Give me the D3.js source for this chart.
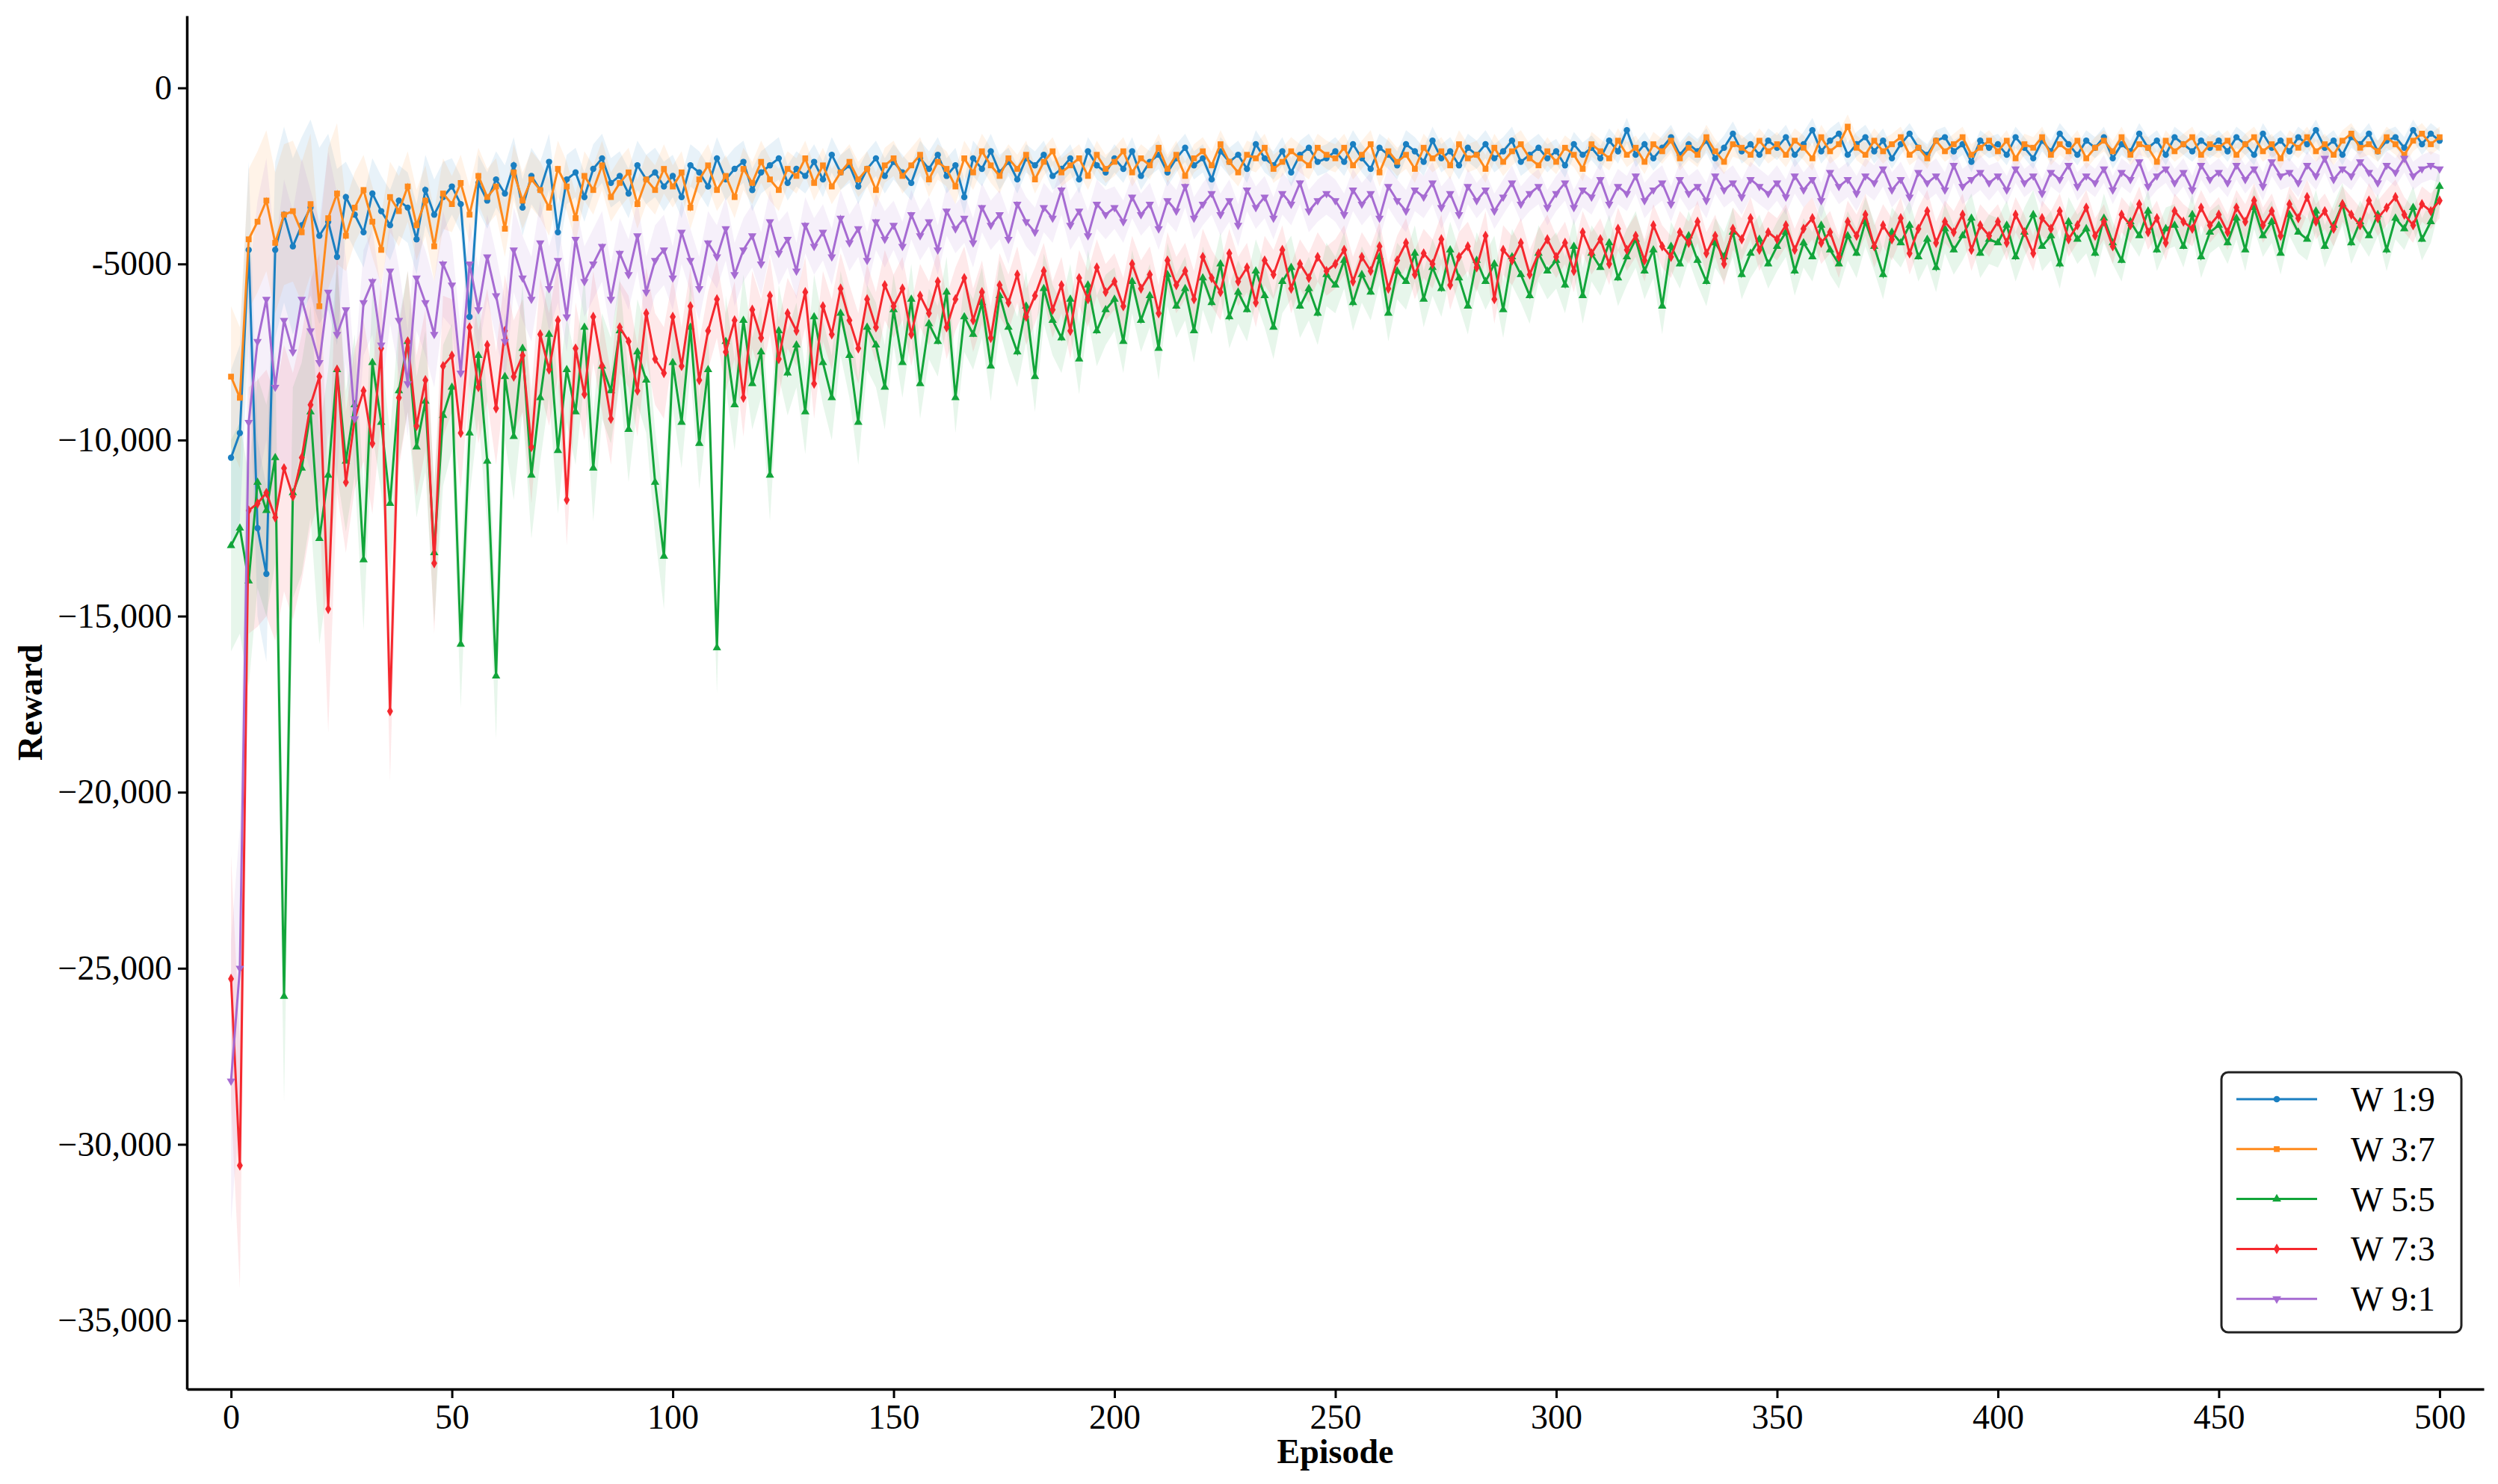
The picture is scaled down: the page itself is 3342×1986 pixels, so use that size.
<!DOCTYPE html>
<html>
<head>
<meta charset="UTF-8" />
<script src="https://d3js.org/d3.v7.min.js"></script>
<style>
  body { margin: 0; background: #fff; }
  text { font-family: "Liberation Serif", "Times New Roman", serif; }
</style>
</head>
<body>
<svg id="chart" width="3342" height="1986"></svg>
<script>
// rewards in thousands, one value every 2 episodes (0, 2, ... 500)
const episodes = d3.range(0, 501, 2);
const seriesNames = ["W 1:9", "W 3:7", "W 5:5", "W 7:3", "W 9:1"];

const w19 = [
-10.5,-9.8,-4.6,-12.5,-13.8,-4.6,-3.6,-4.5,-3.9,-3.4,-4.2,-3.8,-4.8,-3.1,-3.6,-4.1,-3.0,-3.5,-3.9,-3.2,-3.4,-4.3,-2.9,-3.6,-3.1,
-2.8,-3.3,-6.5,-2.7,-3.2,-2.6,-3.0,-2.2,-3.4,-2.5,-2.9,-2.1,-4.1,-2.6,-2.4,-3.1,-2.3,-2.0,-2.7,-2.5,-3.0,-2.2,-2.6,-2.4,-2.8,
-2.5,-3.1,-2.2,-2.4,-2.8,-2.0,-2.6,-2.3,-2.1,-2.9,-2.4,-2.2,-2.0,-2.7,-2.3,-2.5,-2.1,-2.6,-1.9,-2.4,-2.2,-2.8,-2.3,-2.0,-2.5,
-2.1,-2.4,-2.7,-2.0,-2.3,-1.9,-2.5,-2.2,-3.1,-2.0,-2.3,-1.8,-2.4,-2.1,-2.6,-2.0,-2.2,-1.9,-2.5,-2.3,-2.0,-2.6,-1.8,-2.2,-2.4,
-2.0,-2.3,-1.8,-2.5,-2.1,-1.9,-2.4,-2.0,-1.7,-2.2,-2.0,-2.6,-1.8,-2.1,-1.9,-2.3,-1.6,-2.0,-2.2,-1.8,-2.4,-1.9,-1.7,-2.1,-2.0,
-1.8,-2.1,-1.6,-2.0,-2.3,-1.7,-1.9,-2.2,-1.6,-1.8,-2.1,-1.5,-2.0,-1.8,-2.2,-1.7,-1.9,-1.6,-2.0,-1.8,-1.5,-2.1,-1.9,-1.7,-2.0,
-1.8,-2.2,-1.6,-1.9,-1.7,-2.0,-1.5,-1.8,-1.2,-1.9,-1.6,-2.0,-1.7,-1.4,-1.9,-1.6,-1.8,-1.5,-2.0,-1.7,-1.3,-1.8,-1.6,-1.9,-1.5,
-1.7,-1.4,-1.9,-1.6,-1.2,-1.8,-1.5,-1.3,-1.9,-1.6,-1.4,-1.8,-1.5,-2.0,-1.6,-1.3,-1.7,-1.9,-1.5,-1.4,-1.8,-1.6,-2.1,-1.5,-1.7,
-1.6,-1.9,-1.4,-1.7,-2.0,-1.5,-1.8,-1.3,-1.6,-1.9,-1.5,-1.7,-1.4,-2.0,-1.6,-1.8,-1.3,-1.7,-1.5,-1.9,-1.4,-1.6,-1.8,-1.5,-1.7,
-1.5,-1.8,-1.4,-1.6,-1.9,-1.3,-1.7,-1.5,-1.8,-1.4,-1.6,-1.2,-1.7,-1.5,-1.9,-1.4,-1.6,-1.3,-1.8,-1.5,-1.4,-1.7,-1.2,-1.6,-1.3,
-1.5];

const w37 = [
-8.2,-8.8,-4.3,-3.8,-3.2,-4.4,-3.6,-3.5,-4.1,-3.3,-6.2,-3.7,-3.0,-4.2,-3.4,-2.9,-3.8,-4.6,-3.1,-3.5,-2.8,-3.9,-3.2,-4.5,-3.0,
-3.3,-2.7,-3.6,-2.5,-3.1,-2.8,-4.0,-2.4,-3.2,-2.6,-2.9,-3.4,-2.3,-2.8,-3.7,-2.5,-2.9,-2.2,-3.1,-2.7,-2.4,-3.3,-2.6,-2.9,-2.3,
-2.8,-2.4,-3.4,-2.6,-2.2,-2.9,-2.5,-3.1,-2.3,-2.7,-2.1,-2.6,-2.9,-2.3,-2.5,-2.0,-2.7,-2.2,-2.8,-2.4,-2.1,-2.6,-2.3,-2.9,-2.2,
-2.0,-2.5,-2.2,-1.9,-2.6,-2.1,-2.3,-2.8,-2.0,-2.4,-1.8,-2.2,-2.5,-2.0,-2.3,-1.9,-2.6,-2.1,-1.8,-2.4,-2.2,-2.0,-2.5,-1.9,-2.3,
-2.1,-1.8,-2.4,-2.0,-2.2,-1.7,-2.3,-1.9,-2.5,-2.0,-1.8,-2.2,-1.6,-2.1,-2.4,-1.9,-2.0,-1.7,-2.3,-2.1,-1.8,-2.0,-2.2,-1.7,-1.9,
-2.0,-1.7,-2.2,-1.9,-1.6,-2.4,-1.8,-2.1,-1.9,-2.3,-1.7,-2.0,-1.8,-2.2,-1.6,-2.0,-1.9,-2.3,-1.7,-2.1,-1.8,-1.6,-2.0,-2.2,-1.8,
-2.1,-1.7,-1.9,-2.3,-1.6,-1.8,-2.0,-1.5,-1.9,-1.7,-2.1,-1.6,-1.8,-1.5,-2.0,-1.7,-1.9,-1.4,-1.8,-2.1,-1.6,-1.7,-1.9,-1.5,-1.8,
-1.6,-1.9,-1.5,-1.7,-2.0,-1.4,-1.8,-1.6,-1.1,-1.7,-1.9,-1.5,-1.8,-1.6,-1.4,-1.9,-1.7,-2.0,-1.5,-1.8,-1.6,-1.4,-1.9,-1.7,-1.5,
-1.8,-1.5,-2.0,-1.6,-1.7,-1.4,-1.9,-1.6,-1.8,-1.5,-2.0,-1.7,-1.5,-1.8,-1.4,-1.9,-1.6,-1.7,-2.1,-1.5,-1.8,-1.6,-1.4,-1.9,-1.6,
-1.7,-1.5,-1.9,-1.6,-1.4,-1.8,-1.6,-2.0,-1.5,-1.7,-1.4,-1.8,-1.6,-1.9,-1.5,-1.3,-1.7,-1.6,-1.8,-1.4,-1.6,-1.9,-1.5,-1.3,-1.6,
-1.4];

const w55 = [
-13.0,-12.5,-14.0,-11.2,-12.0,-10.5,-25.8,-11.5,-10.8,-9.2,-12.8,-11.0,-8.0,-10.6,-9.0,-13.4,-7.8,-9.5,-11.8,-8.6,-7.2,-10.2,-8.9,-13.2,-9.3,
-8.5,-15.8,-9.8,-7.6,-10.6,-16.7,-8.2,-9.9,-7.4,-11.0,-8.8,-7.0,-10.3,-8.0,-9.2,-6.8,-10.8,-7.9,-8.6,-6.9,-9.7,-7.5,-8.3,-11.2,-13.3,
-7.8,-9.5,-6.8,-10.1,-8.0,-15.9,-7.2,-9.0,-6.6,-8.4,-7.5,-11.0,-6.9,-8.1,-7.3,-9.2,-6.5,-7.8,-8.8,-6.4,-7.6,-9.5,-6.8,-7.3,-8.5,
-6.3,-7.8,-6.0,-8.4,-6.7,-7.2,-5.8,-8.8,-6.5,-7.0,-6.1,-7.9,-5.9,-6.8,-7.5,-6.2,-8.2,-5.7,-6.6,-7.1,-6.0,-7.7,-5.6,-6.9,-6.3,
-6.0,-7.2,-5.5,-6.6,-5.9,-7.4,-5.3,-6.2,-5.7,-6.9,-5.4,-6.1,-5.0,-6.5,-5.8,-6.3,-5.2,-5.9,-6.8,-5.5,-5.1,-6.2,-5.7,-6.4,-5.3,
-5.6,-4.9,-6.1,-5.3,-5.8,-4.8,-6.4,-5.2,-5.5,-4.7,-6.0,-5.1,-5.7,-4.6,-5.4,-6.2,-4.9,-5.5,-5.0,-6.3,-4.8,-5.3,-5.9,-4.7,-5.2,
-4.9,-5.6,-4.5,-5.9,-4.7,-5.1,-4.4,-5.4,-4.8,-4.3,-5.2,-4.6,-6.2,-4.5,-5.0,-4.2,-4.9,-5.5,-4.4,-4.8,-4.1,-5.3,-4.7,-4.3,-5.0,
-4.5,-4.1,-5.2,-4.4,-4.8,-3.9,-4.6,-5.0,-4.2,-4.7,-3.8,-4.5,-5.3,-4.1,-4.4,-3.9,-4.8,-4.3,-5.1,-4.0,-4.6,-4.2,-3.7,-4.7,-4.3,
-4.4,-3.9,-4.8,-4.1,-3.6,-4.5,-4.2,-5.0,-3.8,-4.3,-4.0,-4.7,-3.7,-4.4,-4.9,-3.8,-4.2,-3.5,-4.6,-4.0,-3.9,-4.5,-3.6,-4.8,-4.1,
-3.9,-4.4,-3.7,-4.6,-3.4,-4.2,-3.8,-4.7,-3.6,-4.1,-4.3,-3.5,-4.5,-3.9,-3.3,-4.4,-3.8,-4.2,-3.6,-4.6,-3.7,-4.0,-3.4,-4.3,-3.8,
-2.8];

const w73 = [
-25.3,-30.6,-12.0,-11.8,-11.5,-12.2,-10.8,-11.6,-10.5,-9.0,-8.2,-14.8,-8.0,-11.2,-9.4,-8.6,-10.1,-7.4,-17.7,-8.8,-7.2,-9.6,-8.3,-13.5,-7.9,
-7.6,-9.8,-6.8,-8.5,-7.3,-9.1,-6.9,-8.2,-7.6,-10.2,-7.0,-8.0,-6.6,-11.7,-7.4,-8.7,-6.5,-7.9,-9.4,-6.8,-7.2,-8.6,-6.4,-7.7,-8.1,
-6.5,-7.9,-6.2,-8.3,-6.9,-6.0,-7.5,-6.6,-8.8,-6.3,-7.1,-5.9,-7.7,-6.4,-6.9,-5.8,-8.4,-6.2,-7.0,-5.7,-6.6,-7.4,-6.0,-6.8,-5.6,
-6.2,-5.7,-7.0,-5.9,-6.4,-5.5,-6.8,-6.0,-5.4,-6.6,-5.8,-7.1,-5.6,-6.1,-5.3,-6.5,-5.9,-5.2,-6.3,-5.6,-6.9,-5.4,-6.0,-5.1,-5.8,
-5.5,-6.2,-5.0,-5.7,-5.3,-6.4,-4.9,-5.6,-5.2,-6.0,-4.8,-5.4,-5.8,-4.7,-5.5,-5.1,-6.1,-4.9,-5.3,-4.6,-5.7,-5.0,-5.4,-4.8,-5.2,
-5.0,-4.6,-5.5,-4.8,-5.2,-4.5,-5.7,-4.9,-4.4,-5.3,-4.7,-5.0,-4.3,-5.6,-4.8,-4.5,-5.1,-4.2,-6.0,-4.6,-4.9,-4.4,-5.3,-4.7,-4.3,
-4.8,-4.4,-5.2,-4.1,-4.7,-4.3,-5.0,-4.0,-4.6,-4.2,-4.9,-3.9,-4.5,-4.8,-4.1,-4.4,-3.8,-4.7,-4.2,-5.0,-4.0,-4.3,-3.7,-4.6,-4.1,
-4.3,-3.9,-4.6,-4.0,-3.7,-4.4,-4.1,-4.8,-3.8,-4.2,-3.6,-4.5,-3.9,-4.3,-3.7,-4.7,-4.0,-3.5,-4.4,-3.8,-4.1,-3.6,-4.6,-3.9,-4.2,
-3.8,-4.4,-3.6,-4.1,-4.7,-3.7,-4.0,-3.5,-4.3,-3.9,-3.4,-4.2,-3.8,-4.5,-3.6,-3.9,-3.3,-4.1,-3.7,-4.4,-3.5,-3.8,-4.0,-3.4,-3.9,
-3.6,-4.1,-3.4,-3.8,-3.2,-3.9,-3.5,-4.2,-3.3,-3.7,-3.1,-3.8,-3.5,-4.0,-3.3,-3.6,-3.9,-3.2,-3.7,-3.4,-3.1,-3.6,-3.9,-3.3,-3.5,
-3.2];

const w91 = [
-28.2,-25.0,-9.5,-7.2,-6.0,-8.5,-6.6,-7.5,-6.0,-6.9,-7.8,-5.8,-7.0,-6.3,-9.4,-6.1,-5.5,-7.3,-5.2,-6.6,-8.4,-5.4,-6.1,-7.0,-5.0,
-5.6,-8.1,-5.0,-6.3,-4.8,-5.9,-7.2,-4.6,-5.4,-6.0,-4.4,-5.7,-4.9,-6.5,-4.3,-5.5,-5.0,-4.5,-6.0,-4.7,-5.3,-4.2,-5.8,-4.9,-4.6,
-5.4,-4.1,-4.9,-5.7,-4.4,-4.8,-4.0,-5.3,-4.6,-4.2,-5.0,-3.8,-4.7,-4.3,-5.2,-3.9,-4.5,-4.1,-4.8,-3.7,-4.4,-4.0,-4.9,-3.8,-4.3,
-3.9,-4.5,-3.6,-4.2,-3.8,-4.6,-3.5,-4.0,-3.7,-4.4,-3.4,-3.9,-3.6,-4.3,-3.3,-3.8,-4.1,-3.4,-3.7,-2.9,-3.9,-3.5,-4.2,-3.3,-3.6,
-3.4,-3.8,-3.1,-3.6,-3.3,-4.0,-3.2,-3.5,-2.8,-3.7,-3.3,-3.0,-3.6,-3.2,-3.9,-2.9,-3.4,-3.1,-3.7,-3.0,-3.3,-2.7,-3.5,-3.2,-3.0,
-3.2,-3.6,-2.9,-3.3,-3.0,-3.7,-2.8,-3.2,-3.5,-2.9,-3.1,-2.7,-3.4,-3.0,-3.6,-2.8,-3.2,-2.9,-3.5,-3.1,-2.7,-3.3,-3.0,-2.8,-3.4,
-3.0,-2.7,-3.4,-2.9,-3.1,-2.6,-3.3,-2.8,-3.0,-2.5,-3.2,-2.9,-2.7,-3.3,-2.6,-3.0,-2.8,-3.2,-2.5,-2.9,-2.7,-3.1,-2.6,-2.8,-3.0,
-2.7,-3.1,-2.5,-2.9,-2.6,-3.2,-2.4,-2.8,-2.6,-3.0,-2.5,-2.7,-2.3,-2.9,-2.6,-3.1,-2.4,-2.7,-2.5,-2.9,-2.2,-2.8,-2.6,-2.4,-2.7,
-2.5,-2.9,-2.3,-2.7,-2.5,-3.0,-2.4,-2.6,-2.2,-2.8,-2.5,-2.7,-2.3,-2.9,-2.4,-2.6,-2.1,-2.8,-2.5,-2.3,-2.7,-2.4,-2.9,-2.2,-2.6,
-2.4,-2.7,-2.2,-2.6,-2.3,-2.8,-2.1,-2.5,-2.4,-2.7,-2.2,-2.5,-2.0,-2.6,-2.3,-2.5,-2.1,-2.4,-2.7,-2.2,-2.4,-2.0,-2.5,-2.3,-2.2,
-2.3];

// spread of the shaded band, thousands, one value per 25-episode block
const sd19 = [2.5,1.0,0.8,0.7,0.6,0.5,0.5,0.4,0.4,0.4,0.4,0.4,0.35,0.35,0.35,0.3,0.3,0.3,0.3,0.3];
const sd37 = [2.0,1.0,0.8,0.7,0.6,0.5,0.5,0.4,0.4,0.4,0.4,0.4,0.35,0.35,0.35,0.3,0.3,0.3,0.3,0.3];
const sd55 = [3.0,2.0,1.8,1.5,1.3,1.2,1.0,1.0,0.9,0.9,0.8,0.8,0.8,0.7,0.7,0.7,0.7,0.6,0.6,0.6];
const sd73 = [3.5,2.0,1.6,1.3,1.1,1.0,0.9,0.8,0.8,0.7,0.7,0.7,0.6,0.6,0.6,0.6,0.5,0.5,0.5,0.5];
const sd91 = [4.0,1.5,1.2,1.0,0.9,0.8,0.7,0.7,0.6,0.6,0.6,0.5,0.5,0.5,0.5,0.5,0.4,0.4,0.4,0.4];

const yTicks = [0, -5000, -10000, -15000, -20000, -25000, -30000, -35000];
const xTicks = [0, 50, 100, 150, 200, 250, 300, 350, 400, 450, 500];

const colors = ["#1a7fc1", "#ff8a1c", "#12a53a", "#f5282e", "#a66bd2"];
const symbols = [d3.symbolCircle, d3.symbolSquare, d3.symbolTriangle, d3.symbolDiamond, d3.symbolTriangle];
const values = [w19, w37, w55, w73, w91];
const spreads = [sd19, sd37, sd55, sd73, sd91];

const margin = { top: 21, right: 19, bottom: 127, left: 250 };
const W = 3342, H = 1986;
const svg = d3.select("#chart");

const x = d3.scaleLinear().domain([-10, 510]).range([margin.left, W - margin.right]);
const y = d3.scaleLinear().domain([-36950, 2050]).range([H - margin.bottom, margin.top]);

svg.append("defs").append("clipPath").attr("id", "plot")
  .append("rect")
  .attr("x", margin.left).attr("y", margin.top)
  .attr("width", W - margin.left - margin.right)
  .attr("height", H - margin.top - margin.bottom);

const plot = svg.append("g").attr("clip-path", "url(#plot)");

// bands first, then lines
values.forEach((vals, s) => {
  const rows = episodes.map((e, i) => {
    const sd = spreads[s][Math.min(19, Math.floor(e / 25))];
    return { e, v: vals[i] * 1000, sd: sd * 1000 };
  });
  plot.append("path")
    .datum(rows)
    .attr("fill", colors[s])
    .attr("fill-opacity", 0.1)
    .attr("d", d3.area().x(d => x(d.e)).y0(d => y(d.v - d.sd)).y1(d => y(d.v + d.sd)));
});

values.forEach((vals, s) => {
  const rows = episodes.map((e, i) => ({ e, v: vals[i] * 1000 }));
  plot.append("path")
    .datum(rows)
    .attr("fill", "none")
    .attr("stroke", colors[s])
    .attr("stroke-width", 3)
    .attr("d", d3.line().x(d => x(d.e)).y(d => y(d.v)));
  plot.selectAll(null)
    .data(rows)
    .enter()
    .append("path")
    .attr("d", d3.symbol().type(symbols[s]).size(s === 1 ? 60 : 55))
    .attr("transform", d => `translate(${x(d.e)},${y(d.v)})${s === 4 ? " rotate(180)" : ""}`)
    .attr("fill", colors[s]);
});

// axes
const fmtY = v => (Math.abs(v) >= 10000 ? d3.format(",")(v) : String(v));

const gx = svg.append("g")
  .attr("transform", `translate(0,${H - margin.bottom})`)
  .call(d3.axisBottom(x).tickValues(xTicks).tickSize(12).tickPadding(8).tickSizeOuter(0));
const gy = svg.append("g")
  .attr("transform", `translate(${margin.left},0)`)
  .call(d3.axisLeft(y).tickValues(yTicks).tickFormat(fmtY).tickSize(12).tickPadding(8).tickSizeOuter(0));

[gx, gy].forEach(g => {
  g.select(".domain").attr("stroke", "#000").attr("stroke-width", 3.5);
  g.selectAll(".tick line").attr("stroke", "#000").attr("stroke-width", 3);
  g.selectAll(".tick text")
    .attr("fill", "#000")
    .style("font-family", "'Liberation Serif', serif")
    .style("font-size", "46px");
});

svg.append("text")
  .attr("x", (margin.left + W - margin.right) / 2)
  .attr("y", 1958)
  .attr("text-anchor", "middle")
  .style("font-size", "46px")
  .style("font-weight", "bold")
  .text("Episode");

svg.append("text")
  .attr("transform", `translate(56,${(margin.top + H - margin.bottom) / 2}) rotate(-90)`)
  .attr("text-anchor", "middle")
  .style("font-size", "46px")
  .style("font-weight", "bold")
  .text("Reward");

// legend
const legend = svg.append("g");
legend.append("rect")
  .attr("x", 2972).attr("y", 1435)
  .attr("width", 321).attr("height", 348)
  .attr("rx", 9)
  .attr("fill", "#fff")
  .attr("stroke", "#222")
  .attr("stroke-width", 3);

seriesNames.forEach((name, s) => {
  const cy = 1471 + s * 66.8;
  legend.append("line")
    .attr("x1", 2992).attr("x2", 3100)
    .attr("y1", cy).attr("y2", cy)
    .attr("stroke", colors[s]).attr("stroke-width", 3);
  legend.append("path")
    .attr("d", d3.symbol().type(symbols[s]).size(60))
    .attr("transform", `translate(3046,${cy})${s === 4 ? " rotate(180)" : ""}`)
    .attr("fill", colors[s]);
  legend.append("text")
    .attr("x", 3145).attr("y", cy + 16)
    .style("font-size", "46px")
    .text(name);
});
</script>
</body>
</html>
